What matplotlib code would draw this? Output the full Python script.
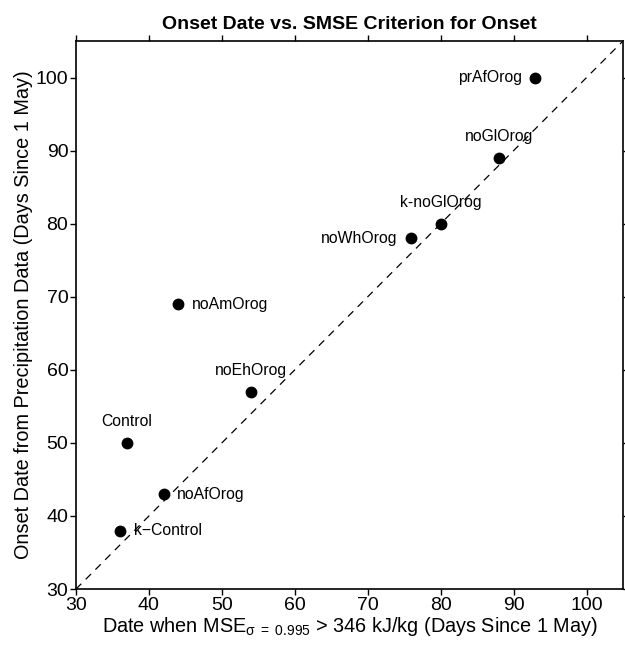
import numpy as np
import matplotlib
matplotlib.use('Agg')
import matplotlib.pyplot as plt

plt.rcParams['font.family'] = ['Liberation Sans', 'DejaVu Sans']
plt.rcParams['mathtext.fontset'] = 'custom'
plt.rcParams['mathtext.rm'] = 'Liberation Sans'
plt.rcParams['mathtext.it'] = 'Liberation Sans:italic'

# onset dates (days since 1 May)
runs    = [ 'prAfOrog' , 'noGlOrog' , 'k-noGlOrog' , 'noWhOrog' , 'noAmOrog' ,
            'noEhOrog' , 'Control' , 'noAfOrog' , 'k\u2212Control' ]
mse_day = [ 93 , 88 , 80 , 76 , 44 , 54 , 37 , 42 , 36 ]
pcp_day = [ 100 , 89 , 80 , 78 , 69 , 57 , 50 , 43 , 38 ]
# where the label sits relative to the point (R-style pos)
lab_pos = [ 'left' , 'above' , 'above' , 'left' , 'right' ,
            'above' , 'above' , 'right' , 'right' ]

ticks = np.arange( 30 , 101 , 10 )

fig = plt.figure( figsize=(6.25,6.48) , dpi=100 )
ax  = fig.add_axes( [ 0.1216 , 0.0910 , 0.8752 , 0.8457 ] )

ax.plot( [30,105] , [30,105] , color='black' , lw=0.9 , dashes=(6,5) , zorder=1 )
ax.plot( mse_day , pcp_day , 'o' , color='black' , ms=7.5 , zorder=2 )

for name , xx , yy , p in zip( runs , mse_day , pcp_day , lab_pos ):
    if p == 'left':
        ax.annotate( name , (xx,yy) , xytext=(-10,0) , textcoords='offset points' ,
                     ha='right' , va='center' , fontsize=11.3 )
    elif p == 'right':
        ax.annotate( name , (xx,yy) , xytext=(10,0) , textcoords='offset points' ,
                     ha='left' , va='center' , fontsize=11.3 )
    else:
        ax.annotate( name , (xx,yy) , xytext=(0,15.5) , textcoords='offset points' ,
                     ha='center' , va='center' , fontsize=11.3 )

ax.set_xlim( 30 , 105 )
ax.set_ylim( 30 , 105 )
ax.set_xticks( ticks )
ax.set_yticks( ticks )

ax.tick_params( direction='out' , length=4 , width=1 , labelsize=14 ,
                top=True , right=True , pad=1.5 )
for s in ax.spines.values():
    s.set_linewidth( 1.2 )

ax.set_xlabel( 'Date when MSE$_{\\mathrm{\u03c3\\ =\\ 0.995}}$ > 346 kJ/kg (Days Since 1 May)' ,
               fontsize=14.3 , labelpad=1 )
ax.set_ylabel( 'Onset Date from Precipitation Data (Days Since 1 May)' , fontsize=14.3 ,
               labelpad=2 )
ax.set_title( 'Onset Date vs. SMSE Criterion for Onset' , fontsize=14 ,
              fontweight='bold' , pad=9 )

fig.savefig( 'out.png' , dpi=100 )
